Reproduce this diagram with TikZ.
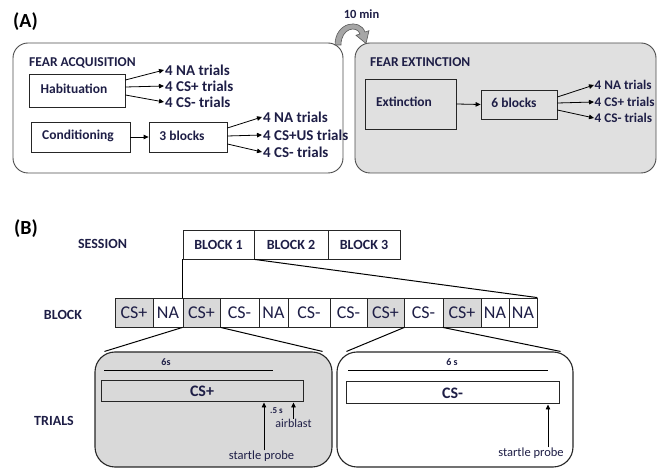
\documentclass[tikz,border=0pt]{standalone}
\usepackage{fontspec}
\setmainfont{Carlito}
\usetikzlibrary{arrows.meta,calc}
\definecolor{txt}{RGB}{30,30,70}
\definecolor{lgray}{RGB}{224,224,224}
\definecolor{cgray}{RGB}{217,217,217}
\definecolor{agray}{RGB}{166,166,166}
\begin{document}
\begin{tikzpicture}[x=1pt,y=-1pt,
  bigbox/.style={draw=black!70, line width=0.9pt, rounded corners=15pt, inner sep=0pt},
  trialbox/.style={draw=black!85, line width=1.1pt, rounded corners=20pt, inner sep=0pt},
  box/.style={draw=black!85, line width=0.8pt, inner sep=0pt},
  lab/.style={font=\fontsize{15}{15}\selectfont\bfseries, text=txt, inner sep=1pt, anchor=west},
  rlab/.style={lab, font=\fontsize{13.2}{13.2}\selectfont\bfseries, inner sep=0.5pt},
  boxtxt/.style={font=\fontsize{13.5}{14}\selectfont\bfseries, text=txt, inner sep=0pt},
  head/.style={font=\fontsize{13.5}{13.5}\selectfont\bfseries, text=txt, inner sep=0pt, anchor=west},
  panel/.style={font=\fontsize{20}{20}\selectfont\bfseries, inner sep=0pt},
  rowlab/.style={font=\fontsize{14}{14}\selectfont\bfseries, text=txt, inner sep=0pt},
  arr/.style={-{Triangle[length=5pt,width=4.5pt]}, line width=0.8pt},
  conn/.style={line width=1pt},
  cell/.style={draw=black!85, line width=0.8pt, minimum height=29pt, inner sep=0pt, font=\fontsize{18}{18}\selectfont, text=txt},
  sess/.style={draw=black!85, line width=0.8pt, minimum height=29pt, inner sep=0pt, font=\fontsize{14}{14}\selectfont\bfseries, text=txt},
  small/.style={font=\fontsize{12.5}{13}\selectfont, text=txt, inner sep=0pt}
]
\useasboundingbox (0,0) rectangle (657,470);

% ---------------- (A) ----------------
\node[panel] (pA) at (25.5,21.5) {(A)};
\node[bigbox, minimum width=330, minimum height=130] (acq) at (178,108) {};
\node[bigbox, fill=lgray, minimum width=301, minimum height=130] (ext) at (505.5,108) {};

% curved arrow
\filldraw[fill=agray, draw=black!65, line width=0.6pt]
  (335,45) .. controls (335,22) and (360,18) .. (365,32)
  -- (369,30.7) -- (366,43.5) -- (356,35.3) -- (360,34)
  .. controls (357,25) and (341,28) .. (341,45) -- cycle;
\node[font=\fontsize{12.5}{12.5}\selectfont\bfseries, text=txt, inner sep=0pt] (tenmin) at (361.5,14) {10 min};

\node[head] (fa) at (29,63) {FEAR ACQUISITION};
\node[head] (fe) at (370,62) {FEAR EXTINCTION};

\node[box, minimum width=96, minimum height=33] (hab) at (77,90.5) {};
\node[boxtxt] (habt) at (74,89) {Habituation};
\node[box, minimum width=99, minimum height=30] (cond) at (80.5,137) {};
\node[boxtxt] (condt) at (78,135.5) {Conditioning};
\node[box, minimum width=78, minimum height=30] (b3) at (188,137) {};
\node[boxtxt] (b3t) at (182,135.5) {3 blocks};
\node[box, minimum width=91, minimum height=50] (extb) at (410.5,104) {};
\node[boxtxt] (extt) at (404,101.5) {Extinction};
\node[box, minimum width=76, minimum height=29] (b6) at (519,104.5) {};
\node[boxtxt] (b6t) at (514,103) {6 blocks};

\node[lab] (h1) at (164,70) {4 NA trials};
\node[lab] (h2) at (164,86) {4 CS+ trials};
\node[lab] (h3) at (164,102) {4 CS- trials};
\node[lab] (k1) at (262,117) {4 NA trials};
\node[lab] (k2) at (262,135) {4 CS+US trials};
\node[lab] (k3) at (262,152) {4 CS- trials};
\node[rlab] (e1) at (594,85) {4 NA trials};
\node[rlab] (e2) at (594,102) {4 CS+ trials};
\node[rlab] (e3) at (594,118) {4 CS- trials};

\draw[arr] ([yshift=10.5pt]hab.east) -- (h1.west);
\draw[arr] ([yshift=3.5pt]hab.east) -- (h2.west);
\draw[arr] ([yshift=-4.5pt]hab.east) -- (h3.west);
\draw[arr] (cond.east) -- (b3.west);
\draw[arr] ([yshift=9pt]b3.east) -- (k1.west);
\draw[arr] ([yshift=1pt]b3.east) -- (k2.west);
\draw[arr] ([yshift=-7pt]b3.east) -- (k3.west);
\draw[arr] (extb.east) -- (b6.west);
\draw[arr] ([yshift=7.5pt]b6.east) -- (e1.west);
\draw[arr] ([yshift=1.5pt]b6.east) -- (e2.west);
\draw[arr] ([yshift=-5.5pt]b6.east) -- (e3.west);

% ---------------- (B) ----------------
\node[panel] (pB) at (26,229) {(B)};
\node[rowlab] (lsess) at (102.5,243.5) {SESSION};
\node[rowlab] (lblock) at (63,315) {BLOCK};
\node[rowlab] (ltrials) at (54,421) {TRIALS};

\node[sess, minimum width=71] (s1) at (218.5,244.5) {BLOCK 1};
\node[sess, minimum width=74] (s2) at (291,244.5) {BLOCK 2};
\node[sess, minimum width=72] (s3) at (364,244.5) {BLOCK 3};

\foreach \l/\r/\t/\f [count=\i] in {115/153/CS+/cgray, 153/183/NA/white, 183/220/CS+/cgray, 220/259/CS-/white, 259/288/NA/white, 288/330/CS-/white, 330/367/CS-/white, 367/404/CS+/cgray, 404/443/CS-/white, 443/481/CS+/cgray, 481/509/NA/white, 509/537/NA/white}
  \node[cell, fill=\f, minimum width={\r-\l}] (c\i) at ({(\l+\r)/2},312.5) {\t};

\draw[conn] (s1.south west) -- (c3.north west);
\draw[conn] (s1.south east) -- (c12.north east);

\node[trialbox, fill=cgray, minimum width=237, minimum height=115] (tl) at (213.5,409.5) {};
\node[trialbox, fill=white, minimum width=236, minimum height=115] (tr) at (455,409.5) {};

\draw[conn] (c3.south west) -- ([xshift=10pt]tl.north west);
\draw[conn] (c3.south east) -- ([xshift=-10pt]tl.north east);
\draw[conn] (c8.south east) -- ([xshift=10pt]tr.north west);
\draw[conn] (c10.south west) -- ([xshift=-13pt]tr.north east);

% left trial
\node[font=\fontsize{10}{10}\selectfont\bfseries, text=txt, inner sep=0pt] (sixl) at (166,362) {6s};
\draw[line width=1pt] (104,371) -- (273,371);
\node[box, line width=1pt, minimum width=202, minimum height=21, font=\fontsize{16}{16}\selectfont\bfseries, text=txt] (csp) at (202,391.5) {CS+};
\node[small] (sp1) at (261.5,456) {startle probe};
\node[small, font=\fontsize{12}{12}\selectfont] (ab) at (293.5,423) {airblast};
\node[font=\fontsize{9}{9}\selectfont\bfseries, text=txt, inner sep=0pt] (half) at (276.5,411) {.5 s};
\draw[arr] ([xshift=2.5pt]sp1.north) -- ([xshift=2.5pt]sp1.north |- csp.south);
\draw[arr] (ab.north) -- (ab.north |- csp.south);

% right trial
\node[font=\fontsize{10}{10}\selectfont\bfseries, text=txt, inner sep=0pt] (sixr) at (452,362) {6 s};
\draw[line width=1pt] (348,371) -- (548,371);
\node[box, line width=1pt, minimum width=213, minimum height=22, font=\fontsize{16}{16}\selectfont\bfseries, text=txt] (csm) at (452.5,393) {CS-};
\node[small] (sp2) at (531,453) {startle probe};
\draw[arr] ([xshift=17pt]sp2.north) -- ([xshift=17pt]sp2.north |- csm.south);
\end{tikzpicture}
\end{document}
